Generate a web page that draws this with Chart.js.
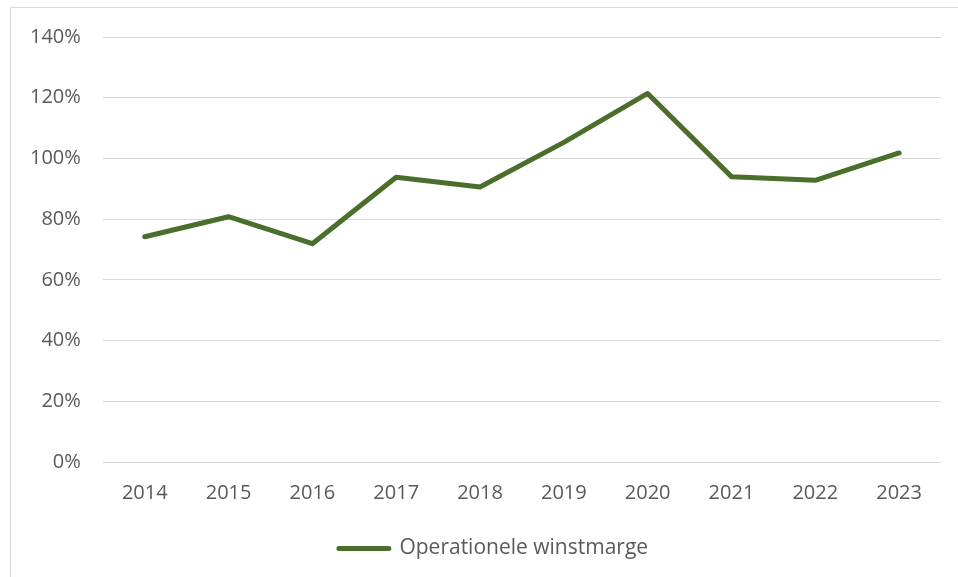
<!DOCTYPE html>
<html>
<head>
<meta charset="utf-8">
<script src="https://cdn.jsdelivr.net/npm/chart.js@4"></script>
<style>
html,body{margin:0;padding:0;background:#fff;overflow:hidden;}
#frame{position:absolute;left:10px;top:7px;width:1000px;height:620px;border:1px solid #d9d9d9;}
#wrap{position:absolute;left:0;top:0;width:958px;height:577px;}
</style>
</head>
<body>
<div id="frame"></div>
<div id="wrap"><canvas id="c" width="958" height="577"></canvas></div>
<script>
const categories = ['2014','2015','2016','2017','2018','2019','2020','2021','2022','2023'];
const seriesName = 'Operationele winstmarge';
const values = [74.2, 80.8, 71.9, 93.8, 90.6, 105.3, 121.4, 94.0, 92.8, 101.8];
const yTicks = [0, 20, 40, 60, 80, 100, 120, 140];

const lineColor = '#4a6e2c';
const textColor = '#595959';
const fontFamily = "'Open Sans', 'Liberation Sans', sans-serif";

const legendShift = {
  id: 'legendShift',
  afterLayout(chart) {
    if (chart.legend) { chart.legend.left += 19; chart.legend.right += 19; }
  }
};

new Chart(document.getElementById('c'), {
  type: 'line',
  data: {
    labels: categories,
    datasets: [{
      label: seriesName,
      data: values,
      borderColor: lineColor,
      backgroundColor: lineColor,
      borderWidth: 5,
      pointRadius: 0,
      tension: 0,
      borderCapStyle: 'round',
      borderJoinStyle: 'round'
    }]
  },
  plugins: [legendShift],
  options: {
    responsive: false,
    animation: false,
    devicePixelRatio: 1,
    layout: { padding: { left: 8, right: 17, top: 37, bottom: 8 } },
    scales: {
      x: {
        offset: true,
        grid: { display: false, drawTicks: false },
        border: { display: false },
        ticks: { color: textColor, font: { family: fontFamily, size: 20 }, padding: 19, maxRotation: 0 }
      },
      y: {
        min: 0, max: 140,
        afterBuildTicks: (axis) => { axis.ticks = yTicks.map(v => ({ value: v })); },
        grid: { color: '#d9d9d9', lineWidth: 1, drawTicks: false },
        border: { display: false },
        ticks: { color: textColor, font: { family: fontFamily, size: 20 }, padding: 22, callback: v => v + '%' }
      }
    },
    plugins: {
      legend: {
        position: 'bottom',
        labels: {
          color: textColor,
          font: { family: fontFamily, size: 21 },
          boxWidth: 50,
          boxHeight: 0,
          padding: 14
        }
      },
      tooltip: { enabled: false }
    }
  }
});
</script>
</body>
</html>
